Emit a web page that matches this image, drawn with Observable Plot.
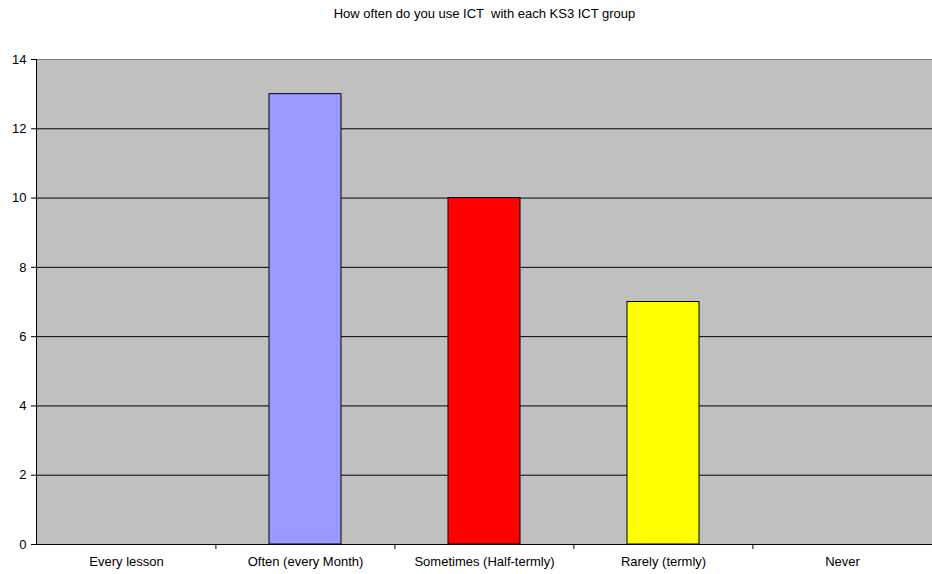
<!DOCTYPE html>
<html>
<head>
<meta charset="utf-8">
<script src="https://cdn.jsdelivr.net/npm/d3@7"></script>
<script src="https://cdn.jsdelivr.net/npm/@observablehq/plot@0.6"></script>
<style>
  body { margin: 0; background: #fff; }
  svg { display: block; font-family: "Liberation Sans", Arial, sans-serif; }
</style>
</head>
<body>
<div id="chart"></div>
<script>
// Responses: how often ICT is used with each KS3 ICT group
const categories = ["Every lesson", "Often (every Month)", "Sometimes (Half-termly)", "Rarely (termly)", "Never"];
const counts = [0, 13, 10, 7, 0];
const barColors = ["#9999ff", "#9999ff", "#ff0000", "#ffff00", "#9999ff"];
const yTicks = [0, 2, 4, 6, 8, 10, 12, 14];
const title = "How often do you use ICT  with each KS3 ICT group";

const data = categories.map((c, i) => ({category: c, count: counts[i], color: barColors[i]}));

const W = 932, H = 574;
const ml = 36, mr = 0, mt = 59, mb = 30;
const step = (W - ml - mr) / categories.length;

const chart = Plot.plot({
  width: W,
  height: H,
  marginLeft: ml,
  marginRight: mr,
  marginTop: mt,
  marginBottom: mb,
  style: {fontFamily: "Liberation Sans, Arial, sans-serif", fontSize: "13px", color: "#000", background: "#fff"},
  x: {domain: categories, paddingInner: 0.6, paddingOuter: 0.3, label: null},
  y: {domain: [0, 14], label: null},
  marks: [
    Plot.frame({fill: "#c0c0c0", stroke: "none"}),
    Plot.ruleY(yTicks.filter(t => t > 0 && t < 14), {stroke: "#000", strokeWidth: 1}),
    Plot.ruleY([14], {stroke: "#808080", strokeWidth: 1}),
    Plot.barY(data.filter(d => d.count > 0), {x: "category", y: "count", fill: "color", stroke: "#000", strokeWidth: 1}),
    Plot.ruleY([0], {stroke: "#000"}),
    Plot.frame({anchor: "left", stroke: "#000"}),
    Plot.axisY({ticks: yTicks, tickSize: 5, tickPadding: 5, tickFormat: d => String(d), fill: "#000", stroke: "#000", fontSize: 13}),
    Plot.axisX({tickSize: 0, tickPadding: 12, fill: "#000", fontSize: 13}),
    Plot.axisX({ticks: categories.slice(1), tickSize: 5, text: null, stroke: "#000", dx: -step / 2}),
    Plot.text([title], {frameAnchor: "top", lineAnchor: "middle", dy: -46, fontSize: 13, fill: "#000"})
  ]
});

document.getElementById("chart").appendChild(chart);
</script>
</body>
</html>
